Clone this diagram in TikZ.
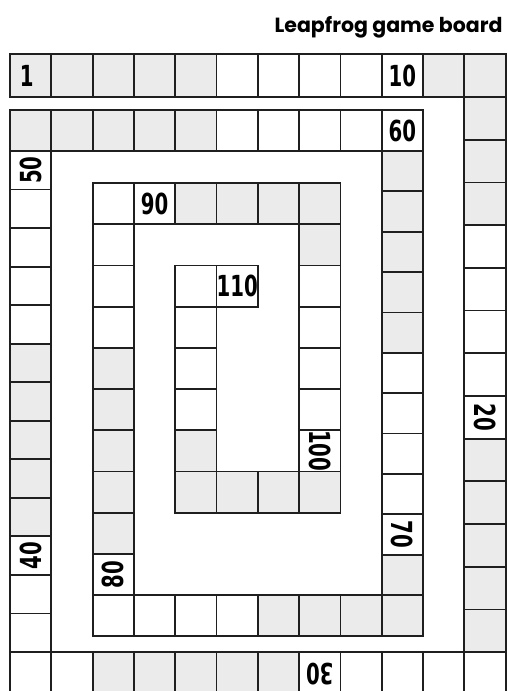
\documentclass[tikz,border=0pt]{standalone}
\usepackage{fontspec}
\newfontfamily\numfont[FakeStretch=0.68]{DejaVu Sans}
\newfontfamily\titlefont{Poppins}
\definecolor{boardgray}{gray}{0.92}

% one square of the track: number, x0, y0, x1, y1
% squares come in runs of five, grey then white
\newcommand{\boardcell}[5]{%
  \pgfmathtruncatemacro{\grp}{mod(floor((#1-1)/5),2)}%
  \ifnum\grp=0 \def\cellfill{boardgray}\else\def\cellfill{white}\fi
  \draw[cell,fill=\cellfill] (#2,#3) rectangle (#4,#5);
  \coordinate (c#1) at ({(#2+#4)/2},{(#3+#5)/2});
}

\begin{document}
\begin{tikzpicture}[x=1pt,y=-1pt,
    cell/.style={line width=1.8pt,draw=black!88},
    num/.style={font=\fontsize{29}{29}\numfont\bfseries,inner sep=0pt}]
  \useasboundingbox (0,0) rectangle (508,691);
  % title
  \node[anchor=base east,font=\fontsize{20.5}{20.5}\titlefont\bfseries]
    (title) at (506,32) {Leapfrog game board};
  % outer ring: top row, right column, bottom row, left column
  \foreach \n in {1,...,12} {
    \pgfmathsetmacro\xa{10+41.3*(\n-1)}
    \pgfmathsetmacro\xb{\xa+41.3}
    \boardcell{\n}{\xa}{54}{\xb}{97}
  }
  \foreach \n in {13,...,25} {
    \pgfmathsetmacro\ya{97+42.7*(\n-13)}
    \pgfmathsetmacro\yb{\ya+42.7}
    \boardcell{\n}{464.3}{\ya}{505.6}{\yb}
  }
  \foreach \n in {26,...,37} {
    \pgfmathsetmacro\xa{10+41.3*(37-\n)}
    \pgfmathsetmacro\xb{\xa+41.3}
    \boardcell{\n}{\xa}{652}{\xb}{697}
  }
  \foreach \n in {38,...,50} {
    \pgfmathsetmacro\ya{652-38.54*(\n-37)}
    \pgfmathsetmacro\yb{\ya+38.54}
    \boardcell{\n}{10}{\ya}{51.3}{\yb}
  }
  % second ring
  \foreach \n in {51,...,60} {
    \pgfmathsetmacro\xa{10+41.3*(\n-51)}
    \pgfmathsetmacro\xb{\xa+41.3}
    \boardcell{\n}{\xa}{110}{\xb}{151}
  }
  \foreach \n in {61,...,71} {
    \pgfmathsetmacro\ya{151+40.36*(\n-61)}
    \pgfmathsetmacro\yb{\ya+40.36}
    \boardcell{\n}{381.7}{\ya}{423}{\yb}
  }
  \foreach \n in {72,...,79} {
    \pgfmathsetmacro\xa{10+41.3*(81-\n)}
    \pgfmathsetmacro\xb{\xa+41.3}
    \boardcell{\n}{\xa}{595}{\xb}{636.2}
  }
  \foreach \n in {80,...,88} {
    \pgfmathsetmacro\ya{183+41.2*(89-\n)}
    \pgfmathsetmacro\yb{\ya+41.2}
    \boardcell{\n}{92.6}{\ya}{133.9}{\yb}
  }
  % third ring and the middle
  \foreach \n in {89,...,94} {
    \pgfmathsetmacro\xa{10+41.3*(\n-87)}
    \pgfmathsetmacro\xb{\xa+41.3}
    \boardcell{\n}{\xa}{183}{\xb}{224.2}
  }
  \foreach \n in {95,...,100} {
    \pgfmathsetmacro\ya{183+41.2*(\n-94)}
    \pgfmathsetmacro\yb{\ya+41.2}
    \boardcell{\n}{299.1}{\ya}{340.4}{\yb}
  }
  \foreach \n in {101,...,104} {
    \pgfmathsetmacro\xa{10+41.3*(108-\n)}
    \pgfmathsetmacro\xb{\xa+41.3}
    \boardcell{\n}{\xa}{471.4}{\xb}{512.6}
  }
  \foreach \n in {105,...,109} {
    \pgfmathsetmacro\ya{183+41.2*(111-\n)}
    \pgfmathsetmacro\yb{\ya+41.2}
    \boardcell{\n}{175.2}{\ya}{216.5}{\yb}
  }
  \boardcell{110}{216.5}{265.4}{257.8}{306.6}
  % numbers every ten squares, turned to face the outside
  \node[num] (n1) at ([xshift=-4]c1) {1};
  \node[num] (n10) at (c10) {10};
  \node[num,rotate=-90] (n20) at (c20) {20};
  \node[num,rotate=180] (n30) at (c30) {30};
  \node[num,rotate=90] (n40) at (c40) {40};
  \node[num,rotate=90] (n50) at (c50) {50};
  \node[num] (n60) at (c60) {60};
  \node[num,rotate=-90] (n70) at (c70) {70};
  \node[num,rotate=90] (n80) at (c80) {80};
  \node[num] (n90) at (c90) {90};
  \node[num,rotate=-90] (n100) at (c100) {100};
  \node[num] (n110) at (c110) {110};
\end{tikzpicture}
\end{document}
